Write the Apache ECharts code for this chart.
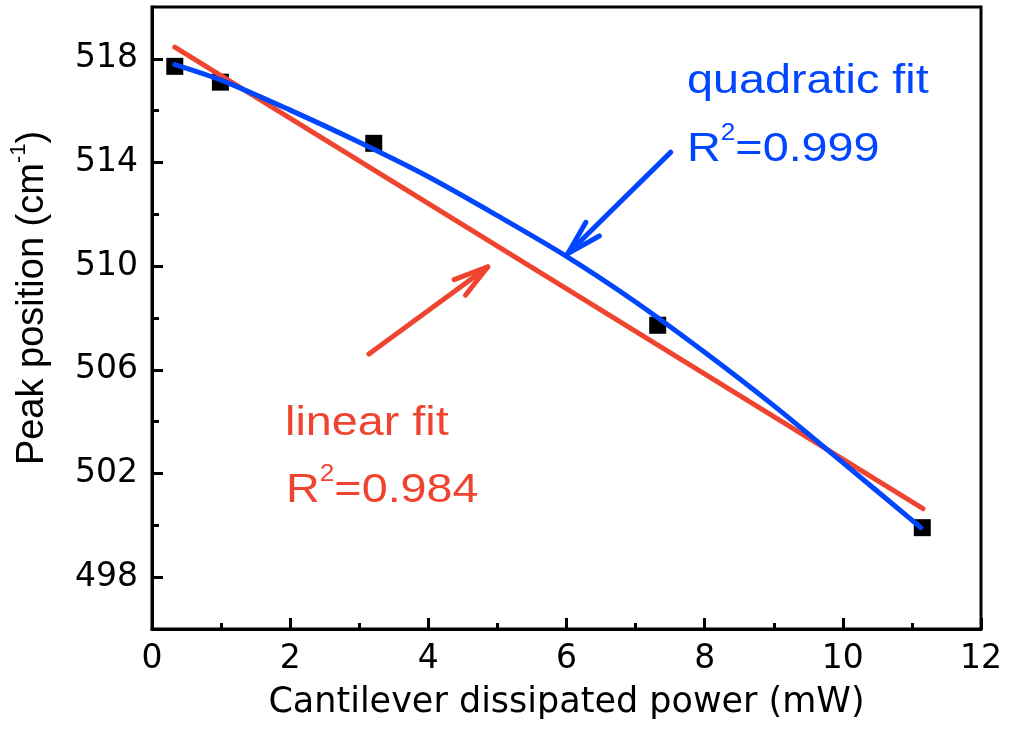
<!DOCTYPE html>
<html>
<head>
<meta charset="utf-8">
<script src="https://cdn.jsdelivr.net/npm/echarts@6/dist/echarts.min.js"></script>
<style>
html,body{margin:0;padding:0;background:#fff;}
#chart{width:1009px;height:729px;}
</style>
</head>
<body>
<div id="chart"></div>
<script>
// ---- data ----
const powerX = [0.33, 0.99, 3.21, 7.32, 11.15];
const peakY  = [517.71, 517.10, 514.74, 507.72, 499.91];

const linearX = [0.33, 11.16];
const linearY = [518.45, 500.64];

const quadX = [0.33, 1.0, 2.0, 3.0, 4.0, 5.0, 6.0, 7.0, 8.0, 9.0, 10.0, 11.13];
const quadY = [517.78, 517.18, 516.02, 514.78, 513.45, 511.95, 510.38, 508.62, 506.68, 504.62, 502.42, 499.91];

// arrows: [tailX, tailY, headX, headY]
const blueArrow = [7.51, 514.40, 6.02, 510.49];
const redArrow  = [3.14, 506.61, 4.86, 509.97];

const yMajorTicks = [498, 502, 506, 510, 514, 518];
const yMinorTicks = [500, 504, 508, 512, 516];

const xLabel = 'Cantilever dissipated power (mW)';
const yLabel = 'Peak position (cm{sup|-1})';
const quadText = ['quadratic fit', 'R{sup|2}=0.999'];
const linText = ['linear fit', 'R{sup|2}=0.984'];

const BLUE = '#0046ff';
const RED = '#ef4530';

const zip = (a, b) => a.map((v, i) => [v, b[i]]);

const chart = echarts.init(document.getElementById('chart'), null, {renderer: 'canvas'});

const tickFont = {fontSize: 33, fontFamily: 'DejaVu Sans', color: '#000'};

function annText(x, y, text, color) {
  return {
    type: 'text', x: x, y: y, scaleX: 1.14, z: 100,
    style: {
      text: text, x: 0, y: 0,
      fontSize: 41, fontFamily: 'Liberation Sans, Arial, sans-serif', fill: color,
      align: 'left', verticalAlign: 'middle', textAlign: 'left', textVerticalAlign: 'middle',
      rich: {
        sup: {fontSize: 23, fontFamily: 'Liberation Sans, Arial, sans-serif', fill: color, verticalAlign: 'top', lineHeight: 23}
      },
      lineHeight: 56
    }
  };
}

const option = {
  animation: false,
  backgroundColor: '#fff',
  grid: {left: 151, right: 28, top: 7, bottom: 100, show: true, borderColor: '#000', borderWidth: 3},
  xAxis: {
    type: 'value', min: 0, max: 12, interval: 2,
    axisLine: {show: true, onZero: false, lineStyle: {color: '#000', width: 3}},
    axisTick: {show: true, inside: true, length: 11, lineStyle: {color: '#000', width: 3}},
    minorTick: {show: true, splitNumber: 2, length: 6, lineStyle: {color: '#000', width: 3}},
    splitLine: {show: false}, minorSplitLine: {show: false},
    axisLabel: Object.assign({margin: 14}, tickFont),
    name: xLabel, nameLocation: 'middle', nameGap: 56,
    nameTextStyle: {fontSize: 35, fontFamily: 'DejaVu Sans', color: '#000'}
  },
  yAxis: [{
    type: 'value', min: 496, max: 520, position: 'left',
    axisLine: {show: true, onZero: false, lineStyle: {color: '#000', width: 3}},
    axisTick: {show: true, inside: true, length: 11, customValues: yMajorTicks, lineStyle: {color: '#000', width: 3}},
    axisLabel: Object.assign({margin: 14, customValues: yMajorTicks}, tickFont),
    splitLine: {show: false},
    name: yLabel, nameLocation: 'middle', nameGap: 94,
    nameTextStyle: {
      fontSize: 38, fontFamily: 'Liberation Sans, Arial, sans-serif', color: '#000',
      lineHeight: 50, padding: [0, 0, 0, 40],
      rich: {sup: {fontSize: 22, fontFamily: 'Liberation Sans, Arial, sans-serif', color: '#000', verticalAlign: 'top', lineHeight: 22}}
    }
  }, {
    type: 'value', min: 496, max: 520, position: 'left',
    axisLine: {show: false},
    axisTick: {show: true, inside: true, length: 7, customValues: yMinorTicks, lineStyle: {color: '#000', width: 3}},
    axisLabel: {show: false},
    splitLine: {show: false}
  }],
  graphic: [
    annText(687, 82, quadText[0], BLUE),
    annText(687, 150, quadText[1], BLUE),
    annText(285, 424, linText[0], RED),
    annText(286, 491, linText[1], RED)
  ],
  series: [
    {
      type: 'scatter', data: zip(powerX, peakY), symbol: 'rect', symbolSize: 17,
      itemStyle: {color: '#000', opacity: 1}, z: 2
    },
    {
      type: 'line', data: zip(linearX, linearY), showSymbol: false, symbol: 'none',
      lineStyle: {color: RED, width: 5, cap: 'round'}, z: 3
    },
    {
      type: 'line', data: zip(quadX, quadY), showSymbol: false, symbol: 'none', smooth: 0.3,
      lineStyle: {color: BLUE, width: 5, cap: 'round'}, z: 4
    },
    {
      type: 'custom', z: 5,
      encode: {x: [0, 2], y: [1, 3]},
      data: [blueArrow.concat([0]), redArrow.concat([1])],
      renderItem: function (params, api) {
        const p0 = api.coord([api.value(0), api.value(1)]);
        const p1 = api.coord([api.value(2), api.value(3)]);
        const color = api.value(4) === 0 ? BLUE : RED;
        const ang = Math.atan2(p0[1] - p1[1], p0[0] - p1[0]);
        const L = 36, da = 0.27;
        const a1 = [p1[0] + L * Math.cos(ang + da), p1[1] + L * Math.sin(ang + da)];
        const a2 = [p1[0] + L * Math.cos(ang - da), p1[1] + L * Math.sin(ang - da)];
        const st = {stroke: color, lineWidth: 5, fill: null, lineCap: 'round', lineJoin: 'round'};
        return {
          type: 'group',
          children: [
            {type: 'line', shape: {x1: p0[0], y1: p0[1], x2: p1[0], y2: p1[1]}, style: st},
            {type: 'polyline', shape: {points: [a1, p1, a2]}, style: st}
          ]
        };
      }
    }
  ]
};
chart.setOption(option);
</script>
</body>
</html>
